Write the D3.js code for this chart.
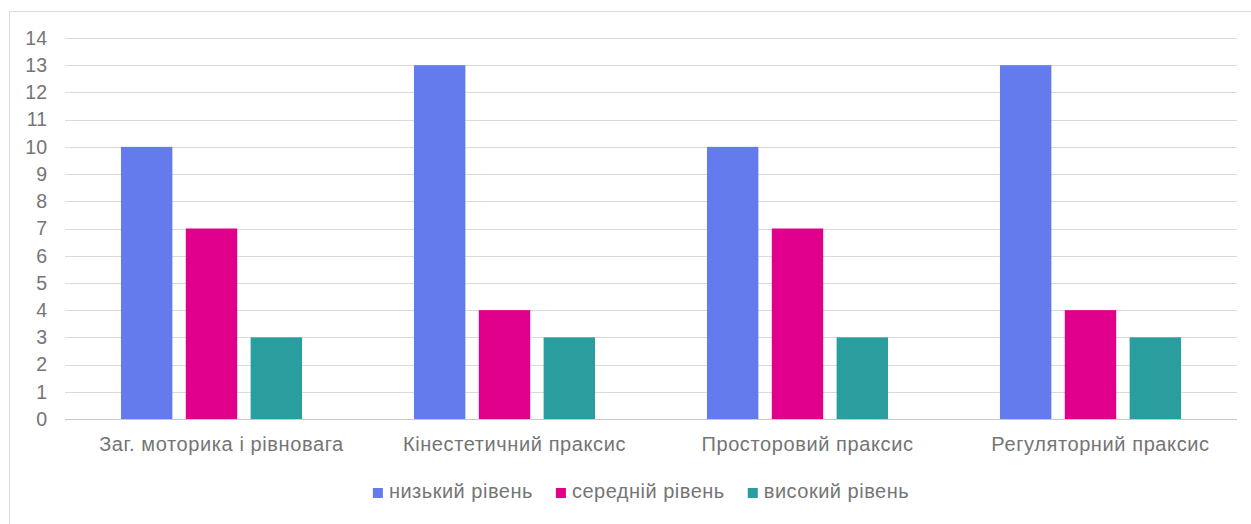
<!DOCTYPE html>
<html>
<head>
<meta charset="utf-8">
<script src="https://cdn.jsdelivr.net/npm/d3@7"></script>
<style>
  body { margin: 0; background: #fff; }
  text { font-family: "Liberation Sans", Arial, sans-serif; fill: #757575; }
</style>
</head>
<body>
<div id="chart"></div>
<script>
const categories = [
  "Заг. моторика і рівновага",
  "Кінестетичний праксис",
  "Просторовий праксис",
  "Регуляторний праксис"
];
const seriesNames = ["низький рівень", "середній рівень", "високий рівень"];
const lowValues = [10, 13, 10, 13];
const midValues = [7, 4, 7, 4];
const highValues = [3, 3, 3, 3];
const yTicks = d3.range(0, 15);

const colors = ["#637bec", "#e1008b", "#2a9d9f"];

const WIDTH = 1251, HEIGHT = 524;
const MARGIN = { TOP: 38, BOTTOM: 105, LEFT: 65, RIGHT: 14 };
const innerW = WIDTH - MARGIN.LEFT - MARGIN.RIGHT;
const innerH = HEIGHT - MARGIN.TOP - MARGIN.BOTTOM;

const data = categories.map((c, i) => ({
  category: c,
  values: [lowValues[i], midValues[i], highValues[i]]
}));

const svg = d3.select("#chart")
  .append("svg")
  .attr("width", WIDTH)
  .attr("height", HEIGHT);

// outer frame
svg.append("rect")
  .attr("x", 9.5).attr("y", 11.5)
  .attr("width", WIDTH).attr("height", HEIGHT)
  .attr("fill", "none")
  .attr("stroke", "#dcdcdc");

const g = svg.append("g")
  .attr("transform", `translate(${MARGIN.LEFT}, ${MARGIN.TOP})`);

const y = d3.scaleLinear().domain([0, 14]).range([innerH, 0]);

const x0 = d3.scaleBand()
  .domain(categories)
  .range([0, innerW])
  .paddingInner(0.382)
  .paddingOuter(0.191);

const x1 = d3.scaleBand()
  .domain(d3.range(seriesNames.length))
  .range([0, x0.bandwidth()])
  .paddingInner(0.207);

// gridlines
g.append("g")
  .selectAll("line")
  .data(yTicks)
  .enter()
  .append("line")
  .attr("x1", 0)
  .attr("x2", innerW)
  .attr("y1", (d) => Math.round(y(d)) + 0.5)
  .attr("y2", (d) => Math.round(y(d)) + 0.5)
  .attr("stroke", (d) => (d === 0 ? "#c8c8c8" : "#dadada"));

// y labels
g.append("g")
  .selectAll("text")
  .data(yTicks)
  .enter()
  .append("text")
  .attr("x", -18)
  .attr("y", (d) => y(d))
  .attr("dy", "0.35em")
  .attr("text-anchor", "end")
  .style("font-size", "19.5px")
  .text((d) => d);

// bars
const groups = g.selectAll("g.cat")
  .data(data)
  .enter()
  .append("g")
  .attr("class", "cat")
  .attr("transform", (d) => `translate(${x0(d.category)}, 0)`);

groups.selectAll("rect")
  .data((d) => d.values.map((v, i) => ({ v, i })))
  .enter()
  .append("rect")
  .attr("x", (d) => x1(d.i))
  .attr("width", x1.bandwidth())
  .attr("y", (d) => y(d.v))
  .attr("height", (d) => y(0) - y(d.v))
  .attr("fill", (d) => colors[d.i]);

// category labels
g.append("g")
  .selectAll("text")
  .data(categories)
  .enter()
  .append("text")
  .attr("x", (d) => x0(d) + x0.bandwidth() / 2 + 10)
  .attr("y", innerH + 32)
  .attr("text-anchor", "middle")
  .style("font-size", "20px")
  .style("letter-spacing", "0.6px")
  .text((d) => d);

// legend
const legend = svg.append("g");
const GAP = 23;
let lx = 0;
seriesNames.forEach((name, i) => {
  const item = legend.append("g").attr("transform", `translate(${lx}, 0)`);
  item.append("rect")
    .attr("x", 0).attr("y", -10)
    .attr("width", 10).attr("height", 10)
    .attr("fill", colors[i]);
  const t = item.append("text")
    .attr("x", 16)
    .attr("y", 0)
    .style("font-size", "20px")
    .style("letter-spacing", "0.5px")
    .text(name);
  lx += 16 + t.node().getComputedTextLength() + GAP;
});
const legendW = lx - GAP;
legend.attr("transform", `translate(${641 - legendW / 2}, 498)`);
</script>
</body>
</html>
